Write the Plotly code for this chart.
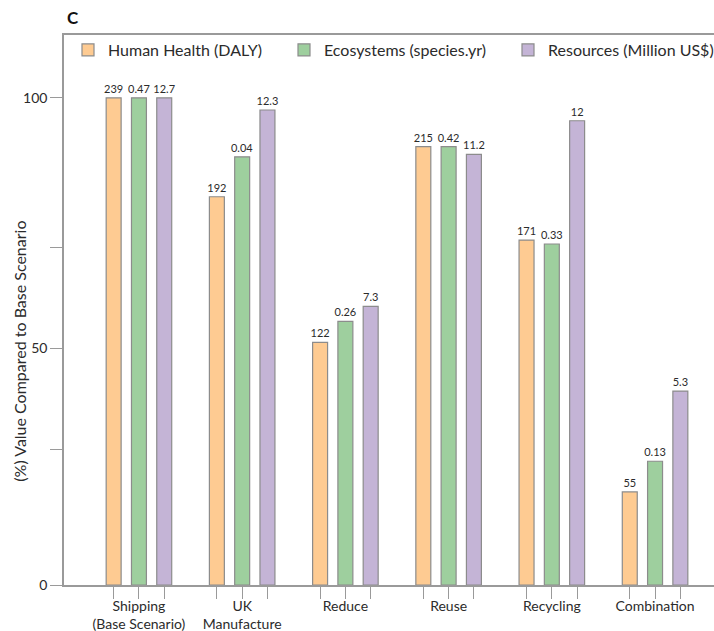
import plotly.graph_objects as go

categories = ["Shipping<br>(Base Scenario)", "UK<br>Manufacture", "Reduce", "Reuse", "Recycling", "Combination"]
series_names = ["Human Health (DALY)", "Ecosystems (species.yr)", "Resources (Million US$)"]

# bar heights (% of base scenario)
human_health_pct = [100, 79.7, 49.8, 90.0, 70.8, 19.1]
ecosystems_pct = [100, 87.9, 54.1, 90.0, 70.0, 25.4]
resources_pct = [100, 97.5, 57.2, 88.4, 95.3, 39.8]

# absolute value labels printed above bars
human_health_lbl = ["239", "192", "122", "215", "171", "55"]
ecosystems_lbl = ["0.47", "0.04", "0.26", "0.42", "0.33", "0.13"]
resources_lbl = ["12.7", "12.3", "7.3", "11.2", "12", "5.3"]

colors = ["#FECB92", "#9ECF9E", "#C4B4D6"]
FONT = "Lato"
TXT = "#2b2b2b"
AX = "#9a9a9a"

W, H = 714, 631
ML, MR, MT, MB = 64, 0, 35, 46
PH = H - MT - MB

offsets = [-0.245, 0.0, 0.245]
bar_w = 0.145

fig = go.Figure()
values = [human_health_pct, ecosystems_pct, resources_pct]
labels = [human_health_lbl, ecosystems_lbl, resources_lbl]
legend_ids = ["legend", "legend2", "legend3"]
for k in range(3):
    fig.add_trace(go.Bar(
        x=[i + offsets[k] for i in range(len(categories))],
        y=values[k],
        width=bar_w,
        name=series_names[k],
        marker=dict(color=colors[k], line=dict(color="#8c8c8c", width=1.2)),
        text=labels[k],
        textposition="outside",
        textfont=dict(family=FONT, size=11, color=TXT),
        constraintext="none",
        cliponaxis=False,
        legend=legend_ids[k],
        showlegend=True,
        hoverinfo="skip",
    ))

tickvals = []
ticktext = []
for i, c in enumerate(categories):
    for k in range(3):
        tickvals.append(i + offsets[k])
        ticktext.append(c if k == 1 else "")

pw = W - ML - MR
def lx(px):
    return (px - ML) / pw

legend_common = dict(
    orientation="h", yref="paper", y=1 - (50 - MT) / PH, yanchor="middle",
    xanchor="left", bgcolor="rgba(0,0,0,0)", borderwidth=0,
    font=dict(family=FONT, size=16, color=TXT), visible=True,
)

fig.update_layout(
    template="none",
    showlegend=True,
    width=W, height=H,
    margin=dict(l=ML, r=MR, t=MT, b=MB, autoexpand=False),
    paper_bgcolor="white", plot_bgcolor="white",
    barmode="overlay",
    font=dict(family=FONT, size=14, color=TXT),
    legend=dict(x=lx(68), **legend_common),
    legend2=dict(x=lx(284), **legend_common),
    legend3=dict(x=lx(508), **legend_common),
    xaxis=dict(
        range=[-0.726, 5.571],
        tickvals=tickvals, ticktext=ticktext,
        ticks="outside", ticklen=12, tickwidth=1.2, tickcolor=AX,
        showline=True, linecolor=AX, linewidth=1.5, mirror=True,
        showgrid=False, zeroline=False, automargin=False,
        ticklabelstandoff=-5,
        tickfont=dict(family=FONT, size=14, color=TXT),
    ),
    yaxis=dict(
        range=[0, 112.9],
        tickvals=[0, 27.9, 48.6, 69.2, 100],
        ticktext=["0", "", "50", "", "100"],
        ticks="outside", ticklen=12, tickwidth=1.2, tickcolor=AX,
        showline=True, linecolor=AX, linewidth=1.5,
        showgrid=False, zeroline=False, automargin=False,
        tickfont=dict(family=FONT, size=14, color=TXT),
    ),
    annotations=[
        dict(text="(%) Value Compared to Base Scenario", textangle=-90,
             xref="paper", x=lx(20), xanchor="center",
             yref="y", y=47.9, yanchor="middle",
             showarrow=False, font=dict(family=FONT, size=16, color=TXT)),
        dict(text="<b>C</b>", xref="paper", x=lx(65), xanchor="left",
             yref="paper", y=1 + (MT - 18) / PH, yanchor="middle",
             showarrow=False, font=dict(family=FONT, size=17, color="#111")),
    ],
)

fig.write_html(
    "out.html",
    config={"displayModeBar": False},
    post_script="document.body.style.margin='0';document.body.style.overflow='hidden';",
)
